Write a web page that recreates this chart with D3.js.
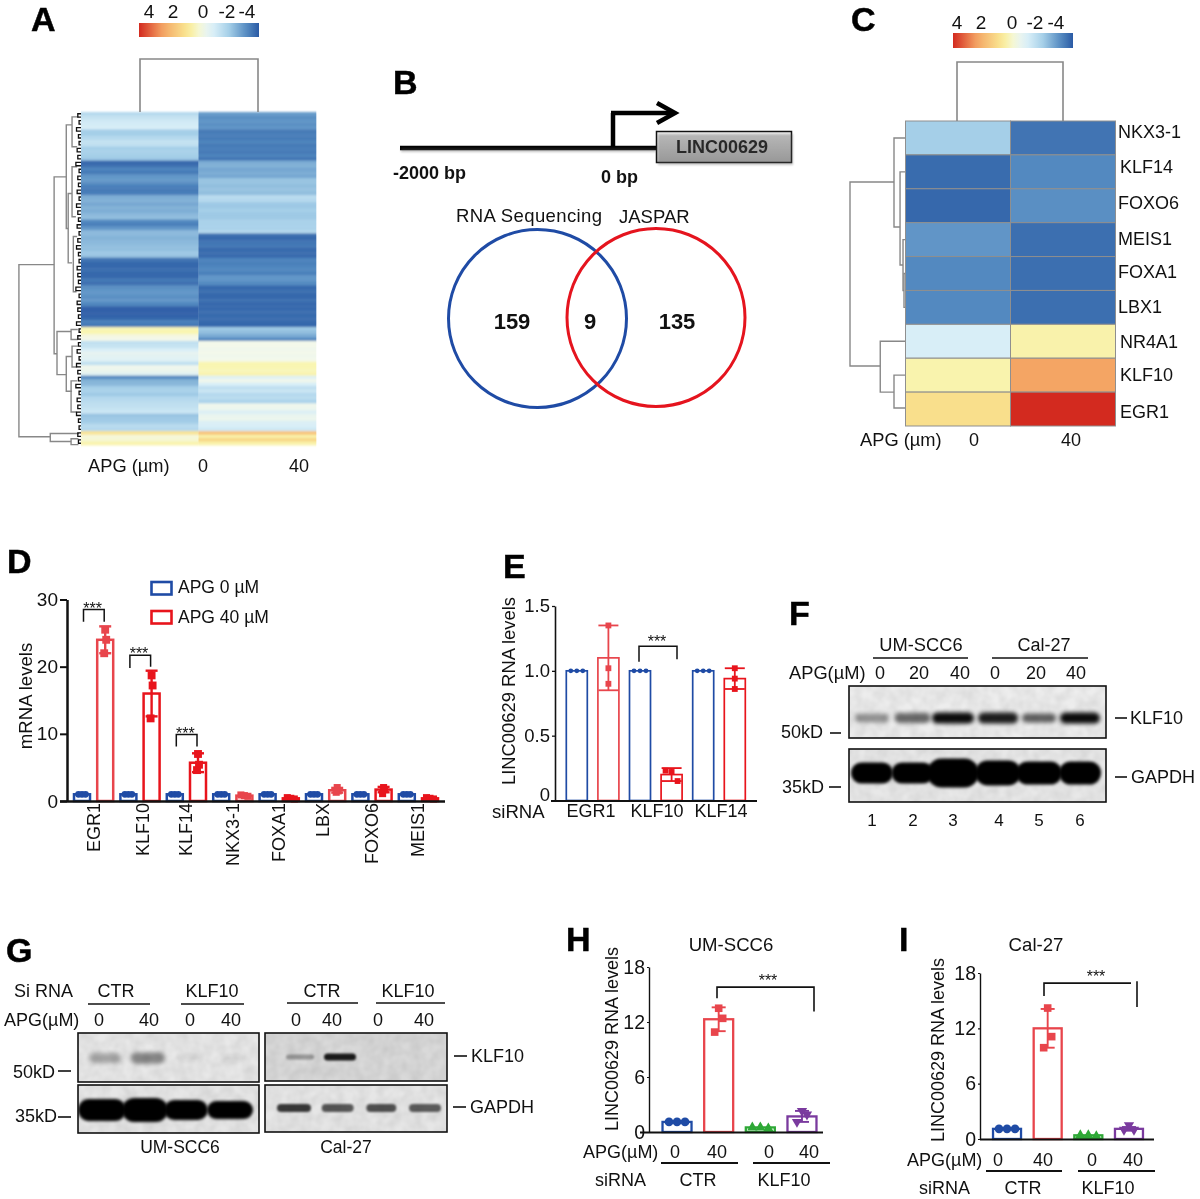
<!DOCTYPE html>
<html><head><meta charset="utf-8">
<style>html,body{margin:0;padding:0;background:#fff}svg{display:block;filter:blur(0.3px)}text{font-family:"Liberation Sans",Arial,sans-serif;fill:#111}</style>
<script src="https://cdnjs.cloudflare.com/ajax/libs/d3/7.8.5/d3.min.js"></script>
</head><body><svg id="c" width="1200" height="1199" viewBox="0 0 1200 1199"></svg>
<script>
// ---------- data ----------
const heatA_0 = [-1.7,-1.4,-1.2,-1.1,-1.0,-2.0,-2.0,-1.7,-1.4,-1.5,-2.0,-1.9,-2.0,-2.1,
 -3.8,-3.7,-3.3,-3.5,-3.0,-2.9,-3.1,-3.4,-3.5,-3.4,-2.6,-2.5,-2.7,-2.5,-2.6,-2.4,-2.3,
 -3.2,-3.4,-3.0,-2.4,-2.4,-2.5,-2.4,-2.3,-2.3,-2.1,-2.2,
 -3.6,-3.8,-3.8,-3.7,-3.8,-3.8,-3.5,-3.7,-3.1,-3.0,-3.0,-3.1,-3.0,-3.3,
 -3.9,-3.9,-3.9,-3.8,-3.4,-3.5,
 0.25,0.3,-0.1,-0.2,-1.5,-1.4,-1.0,-0.6,-0.7,-0.8,-1.5,-0.3,-0.4,-0.7,
 -3.2,-2.5,-2.4,-2.0,-1.9,-2.1,-1.7,-1.6,-1.5,-1.4,-1.3,-2.2,-2.1,-2.0,-1.6,-1.7,
 0.9,-0.05,0.0,0.35];
const heatA_40 = [-2.9,-3.1,-3.0,-3.1,-3.0,-3.5,-3.4,-3.5,-3.3,-3.5,-3.4,-3.5,-3.3,-3.6,
 -2.6,-2.5,-2.7,-2.6,-2.7,-2.2,-2.2,-2.3,-2.2,-2.3,-1.6,-1.7,-2.1,-2.1,-2.0,-2.1,-2.1,
 -1.9,-1.9,-1.9,-1.7,-3.7,-3.8,-3.6,-3.5,-3.8,-3.7,-3.8,
 -3.3,-3.4,-3.3,-3.2,-3.4,-3.0,-3.0,-3.2,-3.8,-3.7,-3.8,-3.8,-3.7,-3.8,
 -3.8,-3.7,-3.8,-3.7,-3.8,-3.8,
 -2.1,-2.3,-2.6,-3.2,-0.2,-0.2,-0.3,-0.2,-0.3,-0.2,0.3,0.3,0.2,0.35,
 -0.8,-0.3,-1.0,-1.5,-1.3,-1.7,-1.6,-1.9,-0.3,-0.4,-0.9,-0.5,-0.4,-0.9,-1.0,-1.2,
 1.7,0.45,1.2,0.4];
const dendroA = [[.97,43.5,93.1,.42,.48],[.42,18.2,69.2,.23,.375],[.23,3.2,33.1,.14,.2],[.14,.9,9.5,.04,.06],
 [.2,23,43,.14,.14],[.14,15.3,29.7,.06,.08],[.12,35.4,51.3,.06,.07],[.375,62.8,75.2,.155,.23],[.155,62.2,65.1,.05,.05],
 [.23,70,80,.14,.14],[.14,67,73,.05,.06],[.155,77,86,.06,.07],[.48,92.2,94.5,.03,.155],[.155,93.7,95.4,.04,.04]];
const leafRows = d3.range(0,96,2);
const leafHeights = [.05,.03,.07,.04,.03,.06,.05,.08,.03,.05,.04,.06,.03,.07,.05,.04,.06,.03,.05,.07,.04,.03,.06,.05,
 .04,.08,.03,.06,.05,.04,.07,.03,.05,.04,.06,.03,.07,.05,.04,.08,.03,.06,.05,.07,.04,.03,.05,.04];
const colTicks = [4,2,0,-2,-4];
const genesC = ['NKX3-1','KLF14','FOXO6','MEIS1','FOXA1','LBX1','NR4A1','KLF10','EGR1'];
const heatC_0  = [-2,-3.75,-3.8,-3,-3.2,-3.2,-1,0.35,1];
const heatC_40 = [-3.6,-3.2,-3.1,-3.7,-3.7,-3.7,0.4,2.4,4];
const dendroC = [[1,1.8,7.23,.2,.45],[.2,.5,3.13,0,.09],[.09,1.5,4.25,0,.036],[.036,3.5,5,0,.018],[.018,4.5,5.5,0,0],[.45,6.5,8,0,.2],[.2,7.5,8.47,0,0]];
const vennCounts = [159,9,135];
const vennNames = ['RNA Sequencing','JASPAR'];

const genesD = ['EGR1','KLF10','KLF14','NKX3-1','FOXA1','LBX','FOXO6','MEIS1'];
const ctrlD = [1,1,1,1,1,1,1,1];
const meansD = [24,16,5.7,0.8,0.4,1.6,1.7,0.4];
const sdD = [2,3.4,1.4,.1,.1,.35,.4,.1];
const ptsD = [[25.5,24,22],[18.7,17.2,12.3],[7,5.4,4.6],[.9,.8,.7],[.5,.4,.3],[2,1.5,1.3],[2,1.7,1.1],[.5,.4,.3]];
const sigD = [['EGR1',28.5,26.7,26.7],['KLF10',21.7,19.8,20],['KLF14',9.9,8.1,8.1]];
const legendD = ['APG 0 µM','APG 40 µM'];

const condE = ['EGR1 c','EGR1 t','KLF10 c','KLF10 t','KLF14 c','KLF14 t'];
const groupsE = ['EGR1','KLF10','KLF14'];
const meansE = [1,1.1,1,.2,1,.94];
const sdE = [0,.25,0,.05,0,.08];
const ptsE = [[1,1,1],[1.35,1.02,.9],[1,1,1],[.23,.22,.15],[1,1,1],[1.02,.94,.86]];

const condH = ['CTR 0','CTR 40','KLF10 0','KLF10 40'];
const meansH = [1.1,12.3,.5,1.7];
const sdH = [0,1.3,0,.6];
const ptsH = [[1.1,1.1,1.1],[13.5,12.4,10.9],[.5,.5,.4],[2.3,1.9,1.1]];
const meansI = [1.1,12,.4,1.1];
const sdI = [0,2.1,0,.2];
const ptsI = [[1.1,1.1,1.1],[14.2,11.1,9.9],[.4,.4,.3],[1.5,1,1]];
const ticksHI = [0,6,12,18];

const klf10F = [.38,.55,.95,.88,.6,.95];
const gapdhF = [1,1,1,1,1,1];
const klf10G1 = [.28,.42,.06,.06];
const gapdhG1 = [1,1,1,1];
const klf10G2 = [.3,.88,0,0];
const gapdhG2 = [.75,.62,.65,.6];
const laneNums = [1,2,3,4,5,6];

// ---------- helpers ----------
const svg = d3.select('#c');
const defs = svg.append('defs');
[['b2',2.1],['b1',1.3],['b15',1.7]].forEach(([id,s])=>{
  defs.append('filter').attr('id',id).attr('x','-30%').attr('y','-80%').attr('width','160%').attr('height','260%')
    .append('feGaussianBlur').attr('stdDeviation',s);
});
defs.append('filter').attr('id','sh').attr('x','-10%').attr('y','-50%').attr('width','120%').attr('height','200%')
    .append('feGaussianBlur').attr('stdDeviation',1.1);
defs.append('filter').attr('id','heatblur').attr('x','-2%').attr('y','-2%').attr('width','104%').attr('height','104%')
    .append('feGaussianBlur').attr('stdDeviation','0.2 0.9');
const grain=defs.append('filter').attr('id','grain').attr('x',0).attr('y',0).attr('width','100%').attr('height','100%');
grain.append('feTurbulence').attr('type','fractalNoise').attr('baseFrequency',.09).attr('numOctaves',2).attr('seed',4);
grain.append('feColorMatrix').attr('values','0 0 0 0 0  0 0 0 0 0  0 0 0 0 0  0.12 0 0 0 -0.03');
function T(g,x,y,s,o={}){
  const t=g.append('text').attr('x',x).attr('y',y).text(s)
   .attr('font-size',o.size||18).attr('font-weight',o.weight||null).attr('text-anchor',o.anchor||'start')
   .attr('transform',o.rot?`rotate(${o.rot} ${x} ${y})`:null);
  if(o.ls) t.attr('letter-spacing',o.ls);
  return t;
}
function L(g,x1,y1,x2,y2,w=1.5,c='#111'){return g.append('line').attr('x1',x1).attr('y1',y1).attr('x2',x2).attr('y2',y2).attr('stroke',c).attr('stroke-width',w);}
const zColor = d3.scaleLinear()
  .domain([-4,-3.7,-3.2,-2,-1,-0.2,.3,1,2.4,4])
  .range(['#2a5aa5','#3c6fb0','#5389c0','#a5cfe8','#d8eef7','#f3f8ea','#f9f5b0','#f9df8c','#f4a564','#d32a1f']);

// panel letters
[['A',31,31],['B',393,94],['C',851,31],['D',7,573],['E',503,578],['F',789,625],['G',6,962],['H',566,951],['I',899,951]]
 .forEach(([s,x,y])=>T(svg,x,y,s,{size:34,weight:'bold'}).style('fill','#000').attr('stroke','#000').attr('stroke-width',.5));

function colorbar(id,x0,x1,yTop,h,baseline,labelX){
  const scale = d3.scaleLinear().domain([4,-4]).range([0,100]);
  const g = defs.append('linearGradient').attr('id',id);
  d3.range(4,-4.01,-.5).forEach(v=>g.append('stop').attr('offset',scale(v)+'%').attr('stop-color',zColor(v)));
  svg.append('rect').attr('x',x0).attr('y',yTop).attr('width',x1-x0).attr('height',h).attr('fill',`url(#${id})`);
  colTicks.forEach((v,i)=>T(svg,labelX[i],baseline,String(v),{anchor:'middle',size:19}));
}
function dendro(g,br,hS,vS,c='#888',w=1.4){
  br.forEach(([h,a,b,ha,hb])=>{
    const p=d3.path();
    p.moveTo(hS(ha),vS(a));p.lineTo(hS(h),vS(a));p.lineTo(hS(h),vS(b));p.lineTo(hS(hb),vS(b));
    g.append('path').attr('d',p.toString()).attr('fill','none').attr('stroke',c).attr('stroke-width',w);
  });
}

// ---------- A ----------
{
  const rows=d3.range(heatA_0.length), cols=[heatA_0,heatA_40];
  const y=d3.scaleBand(rows,[112,445]), x=d3.scaleBand([0,1],[81,316]);
  const g=svg.append('g').attr('filter','url(#heatblur)');
  cols.forEach((arr,c)=>g.selectAll(null).data(arr).enter().append('rect')
    .attr('x',x(c)).attr('width',x.bandwidth()+.3).attr('y',(d,i)=>y(i)).attr('height',y.bandwidth()+.4).attr('fill',d=>zColor(d)));
  colorbar('cbA',139,259,23,14,18,[149,173,203,227,247]);
  const vS=d3.scaleLinear([0,95],[112+y.bandwidth()/2,445-y.bandwidth()/2]);
  const hS=d3.scaleLinear([0,1],[81,17]);
  dendro(svg,dendroA,hS,vS);
  leafRows.forEach((r,i)=>dendro(svg,[[leafHeights[i],r,Math.min(r+1,95),0,0]],hS,vS,'#111',1.3));
  const top=svg.append('path').attr('fill','none').attr('stroke','#888').attr('stroke-width',1.6);
  const p=d3.path();p.moveTo(140,112);p.lineTo(140,59);p.lineTo(258,59);p.lineTo(258,112);top.attr('d',p.toString());
  T(svg,88,472,'APG (µm)',{size:18.3});T(svg,203,472,'0',{anchor:'middle',size:18});T(svg,299,472,'40',{anchor:'middle',size:18});
}

// ---------- B ----------
{
  const g=svg.append('g');
  const sh=svg.append('g').attr('filter','url(#sh)').attr('opacity',.35).attr('transform','translate(1,2)');
  L(sh,400,148,655,148,4,'#555');
  const grad=defs.append('linearGradient').attr('id','boxg').attr('x1',0).attr('y1',0).attr('x2',0).attr('y2',1);
  grad.append('stop').attr('offset','0%').attr('stop-color','#f2f2f2');grad.append('stop').attr('offset','100%').attr('stop-color','#bdbdbd');
  L(g,400,148,656,148,4.5,'#000');L(g,613,148,613,113,4.5,'#000');L(g,611,113,672,113,4.5,'#000');
  g.append('path').attr('d','M657,103L675,113L657,123').attr('fill','none').attr('stroke','#000').attr('stroke-width',4.5);
  sh.append('rect').attr('x',657).attr('y',132).attr('width',135).attr('height',31).attr('fill','#555');
  g.append('rect').attr('x',656.5).attr('y',131.5).attr('width',135).attr('height',31).attr('fill','url(#boxg)').attr('stroke','#111').attr('stroke-width',1.5);
  T(g,722,153,'LINC00629',{anchor:'middle',size:18,weight:'bold'});
  T(g,393,179,'-2000 bp',{size:18,weight:'bold'});T(g,601,183,'0 bp',{size:18,weight:'bold'});
  T(g,456,222,vennNames[0],{size:18.5,ls:.4});T(g,619,223,vennNames[1],{size:18.5});
  g.append('circle').attr('cx',537.5).attr('cy',318.5).attr('r',89).attr('fill','none').attr('stroke','#1f4ba5').attr('stroke-width',3);
  g.append('circle').attr('cx',656).attr('cy',317.5).attr('r',89).attr('fill','none').attr('stroke','#e5141e').attr('stroke-width',3);
  vennCounts.forEach((v,i)=>T(g,[512,590,677][i],329,String(v),{anchor:'middle',size:22,weight:'bold'}));
}

// ---------- C ----------
{
  const y=d3.scaleBand(genesC,[121,426]), x=d3.scaleBand([0,1],[905.5,1115.5]);
  [heatC_0,heatC_40].forEach((arr,c)=>svg.selectAll(null).data(arr).enter().append('rect')
    .attr('x',x(c)).attr('width',x.bandwidth()).attr('y',(d,i)=>y(genesC[i])).attr('height',y.bandwidth())
    .attr('fill',d=>zColor(d)).attr('stroke','#8f8f8f').attr('stroke-width',1));
  const nudge=[0,1,3,5,4,6,7,6,9], lx=[1118,1120,1118,1118,1118,1118,1120,1120,1120];
  genesC.forEach((s,i)=>T(svg,lx[i],y(s)+y.bandwidth()/2+nudge[i],s,{size:18}));
  colorbar('cbC',953,1073,33,15,29,[957,981,1012,1035,1056]);
  dendro(svg,dendroC,d3.scaleLinear([0,1],[905,850]),d3.scaleLinear([0,9],[121,426]));
  const p=d3.path();p.moveTo(957,121);p.lineTo(957,62);p.lineTo(1063,62);p.lineTo(1063,121);
  svg.append('path').attr('d',p.toString()).attr('fill','none').attr('stroke','#888').attr('stroke-width',1.6);
  T(svg,860,446,'APG (µm)',{size:18.3});T(svg,974,446,'0',{anchor:'middle',size:18});T(svg,1071,446,'40',{anchor:'middle',size:18});
}

// ---------- bars ----------
const BLUE='#1f4ba5',RED='#e8141c',LRED='#e8454c',GREEN='#2ea836',PURP='#7a3a9e';
const sym={c:d3.symbolCircle,s:d3.symbolSquare,t:d3.symbolTriangle,v:d3.symbolTriangle};
function marker(g,px,py,kind,size,color){
  g.append('path').attr('d',d3.symbol().type(sym[kind]).size(size)())
   .attr('transform',`translate(${px},${py})`+(kind==='v'?' rotate(180)':'')).attr('fill',color);
}
function bar(g,cx,w,y,mean,sd,pts,color,kind,o){
  const b=y(0);
  g.append('rect').attr('x',cx-w/2).attr('y',y(mean)).attr('width',w).attr('height',b-y(mean))
   .attr('fill','none').attr('stroke',color).attr('stroke-width',o.sw);
  if(sd>0){
    L(g,cx,y(mean-sd),cx,y(mean+sd),o.ew,color);
    L(g,cx-o.cap,y(mean-sd),cx+o.cap,y(mean-sd),o.ew,color);
    L(g,cx-o.cap,y(mean+sd),cx+o.cap,y(mean+sd),o.ew,color);
  }
  const allSame=Math.max(...pts)-Math.min(...pts)<.15*(o.sameThresh||1);
  const jit=allSame?[-o.spread,0,o.spread]:[0,o.j,-o.j];
  pts.forEach((v,i)=>marker(g,cx+jit[i],y(v),kind,o.ms,color));
}
function yAxis(g,scale,x,values,fmt,w,tick,size=18){
  const a=d3.axisLeft(scale).tickValues(values).tickSize(tick).tickSizeOuter(0).tickPadding(2).tickFormat(fmt);
  const sel=g.append('g').attr('transform',`translate(${x},0)`).call(a);
  sel.selectAll('path').attr('stroke','#111').attr('stroke-width',w);
  sel.selectAll('line').attr('stroke','#111').attr('stroke-width',w*.8);
  sel.selectAll('text').attr('font-size',size).style('font-family','"Liberation Sans",Arial,sans-serif').style('fill','#111');
  return sel;
}
function sig(g,x1,x2,yTop,yL,yR,sx,sy,w=1.5){
  const p=d3.path();p.moveTo(x1,yL);p.lineTo(x1,yTop);p.lineTo(x2,yTop);p.lineTo(x2,yR);
  g.append('path').attr('d',p.toString()).attr('fill','none').attr('stroke','#111').attr('stroke-width',w);
  T(g,sx,sy,'***',{anchor:'middle',size:16});
}

// D
{
  const g=svg.append('g');
  const y=d3.scaleLinear([0,30],[801,599.5]);
  const x0=d3.scaleBand(genesD,[70.4,441.6]), x1=d3.scaleBand(['0','40'],[0,x0.bandwidth()]);
  const shade=[LRED,RED,RED,LRED,RED,LRED,RED,RED];
  const o={sw:2.5,ew:2.4,cap:6,ms:48,j:1,spread:3.5,sameThresh:4};
  genesD.forEach((n,i)=>{
    const bc=x0(n)+x1('0')+x1.bandwidth()/2, rc=x0(n)+x1('40')+x1.bandwidth()/2;
    bar(g,bc,16,y,ctrlD[i],0,[1,1,1],BLUE,'c',{...o,ms:36});
    bar(g,rc,16,y,meansD[i],sdD[i],ptsD[i],shade[i],'s',{...o,ms:i>2?50:62});
  });
  L(g,60,801.5,445,801.5,2.4);
  yAxis(g,y,67,[0,10,20,30],d3.format('d'),2.5,7,19);
  const nudge={KLF10:3,LBX:-3};
  const ax=g.append('g').attr('transform','translate(0,803)').call(d3.axisBottom(x0).tickSize(0).tickPadding(0));
  ax.select('.domain').remove();
  ax.selectAll('text').attr('font-size',18).attr('text-anchor','end').attr('dy',0).attr('y',0).attr('x',0)
    .style('font-family','"Liberation Sans",Arial,sans-serif').style('fill','#111')
    .attr('transform',d=>`translate(${6+(nudge[d]||0)},0) rotate(-90)`);
  T(g,32,696,'mRNA levels',{anchor:'middle',rot:-90,size:18.6});
  sigD.forEach(([n,t,l,r])=>{
    const x=x0(n);
    sig(g,x+x1.bandwidth()/2+1.5,x+x1('40')+x1.bandwidth()/2-1,y(t),y(l),y(r),x+x1.bandwidth()-1,y(t)+4,1.5);
  });
  [[BLUE,582,593],[RED,611,623]].forEach(([c,ry,ty],i)=>{
    g.append('rect').attr('x',151.5).attr('y',ry).attr('width',20).attr('height',12.5).attr('fill','none').attr('stroke',c).attr('stroke-width',2.6);
    T(g,178,ty,legendD[i],{size:17.5});
  });
}
// E
{
  const g=svg.append('g');
  const y=d3.scaleLinear([0,1.5],[800.5,606]);
  const x=d3.scaleBand(condE,[561,750.6]);
  const o={sw:1.7,ew:1.8,cap:10,ms:34,j:0,spread:6,sameThresh:1};
  condE.forEach((c,i)=>{
    const blue=i%2==0;
    bar(g,x(c)+x.bandwidth()/2,21,y,meansE[i],sdE[i],ptsE[i],blue?BLUE:(i==1?LRED:RED),blue?'c':'s',blue?{...o,ms:18}:{...o,j:0});
  });
  L(g,551,801,757,801,2);
  const ya=yAxis(g,y,555,[0,.5,1,1.5],d=>d===0?'0':d.toFixed(1),1.6,3,18.5);
  ya.selectAll('text').attr('dy',d=>d===0?'-0.02em':'0.32em');
  T(g,515,691,'LINC00629 RNA levels',{anchor:'middle',rot:-90,size:18.4});
  T(g,492,818,'siRNA',{size:18.6});
  groupsE.forEach((s,i)=>T(g,[591,657,721][i],817,s,{anchor:'middle',size:18}));
  sig(g,639,677,y(1.19),y(1.07),y(1.09),657,y(1.19)+1,1.5);
}
// H / I
function panelHI(o){
  const g=svg.append('g');
  const y=d3.scaleLinear([0,18],o.yr);
  const x=d3.scaleBand(condH,o.xr);
  const colors=[BLUE,LRED,GREEN,PURP],kinds=['c','s','t','v'],sp=[8,0,8,7],jj=[0,4,0,5],ms=[60,58,46,46];
  condH.forEach((c,i)=>{
    bar(g,x(c)+x.bandwidth()/2,o.bw,y,o.means[i],o.sd[i],o.pts[i],colors[i],kinds[i],{sw:2.3,ew:1.9,cap:7,ms:ms[i],j:jj[i],spread:sp[i],sameThresh:1});
  });
  L(g,o.axL,y(0)+.5,o.axR,y(0)+.5,2);
  yAxis(g,y,o.axX,ticksHI,d3.format('d'),1.4,2,19.5);
  T(g,o.ylabX,o.ylabY,'LINC00629 RNA levels',{anchor:'middle',rot:-90,size:18});
  T(g,o.titleX,951,o.title,{anchor:'middle',size:18.6});
  const p=o.under;
  T(g,p.apgX,p.apgY,'APG(µM)',{size:18});
  p.tx.forEach((v,i)=>T(g,v,p.apgY,['0','40','0','40'][i],{anchor:'middle',size:18}));
  L(g,p.l1[0],p.lineY,p.l1[1],p.lineY,1.8);L(g,p.l2[0],p.lineY,p.l2[1],p.lineY,1.8);
  T(g,p.siX,p.siY,'siRNA',{size:18});T(g,p.c1,p.siY,'CTR',{anchor:'middle',size:18});T(g,p.c2,p.siY,'KLF10',{anchor:'middle',size:18});
  if(o.gap){
    sig(g,o.s[0],o.s[1]-6,y(o.s[2]),y(o.s[3]),y(o.s[2]),o.s[5],o.s[6],1.6);
    L(g,o.s[1],y(o.s[2])-2,o.s[1],y(o.s[4]),1.6);
  } else sig(g,o.s[0],o.s[1],y(o.s[2]),y(o.s[3]),y(o.s[4]),o.s[5],o.s[6],1.6);
}
panelHI({yr:[1132,967],xr:[656.2,822.8],bw:29,means:meansH,sd:sdH,pts:ptsH,axL:640,axR:823,axX:649,ylabX:618,ylabY:1039,title:'UM-SCC6',titleX:731,
  s:[717,814,15.8,14.6,13.15,768,986],
  under:{apgX:583,apgY:1158,tx:[675,717,769,809],l1:[661,738],l2:[753,830],lineY:1163,siX:595,siY:1186,c1:698,c2:784}});
panelHI({yr:[1139,973],xr:[986.7,1149.3],bw:28,means:meansI,sd:sdI,pts:ptsI,axL:980,axR:1154,axX:980,ylabX:944,ylabY:1050,title:'Cal-27',titleX:1036,gap:true,
  s:[1044,1137,16.9,15.5,14.3,1096,982],
  under:{apgX:907,apgY:1166,tx:[998,1043,1092,1133],l1:[986,1062],l2:[1078,1155],lineY:1171,siX:919,siY:1194,c1:1023,c2:1108}});

// ---------- blots ----------
let clipN=0;
function blot(x,y,w,h,bg,vals,laneS,bandY,bw,bh,blur){
  const id='clip'+(clipN++);
  defs.append('clipPath').attr('id',id).append('rect').attr('x',x).attr('y',y).attr('width',w).attr('height',h);
  const g=svg.append('g').attr('clip-path',`url(#${id})`);
  g.append('rect').attr('x',x).attr('y',y).attr('width',w).attr('height',h).attr('fill',bg);
  g.append('rect').attr('x',x).attr('y',y).attr('width',w).attr('height',h).attr('filter','url(#grain)');
  g.selectAll(null).data(vals).enter().append('rect')
    .attr('x',(d,i)=>laneS(i+1)-bw[i]/2).attr('width',(d,i)=>bw[i])
    .attr('y',(d,i)=>bandY-bh[i]/2).attr('height',(d,i)=>bh[i])
    .attr('rx',(d,i)=>bh[i]/2).attr('fill','#000').attr('opacity',d=>d).attr('filter',`url(#${blur})`);
  svg.append('rect').attr('x',x).attr('y',y).attr('width',w).attr('height',h).attr('fill','none').attr('stroke','#111').attr('stroke-width',1.6);
}
// F
{
  const lane=d3.scaleLinear([1,3,4,6],[872,953,998,1080]);
  blot(849,686,257,52,'#ededed',klf10F,lane,718,[34,36,42,40,34,40],[9,10,11,11,9,11],'b2');
  blot(849,749,257,53,'#e8e8e8',gapdhF,lane,773,[42,42,52,46,46,42],[21,21,29,25,23,23],'b15');
  const g=svg.append('g');
  T(g,921,651,'UM-SCC6',{anchor:'middle',size:18.3});T(g,1044,651,'Cal-27',{anchor:'middle',size:18});
  L(g,873,658,968,658,1.6);L(g,992,658,1088,658,1.6);
  T(g,789,679,'APG(µM)',{size:18.3});
  [[880,'0'],[919,'20'],[960,'40'],[995,'0'],[1036,'20'],[1076,'40']].forEach(([x,s])=>T(g,x,679,s,{anchor:'middle',size:18}));
  T(g,781,738,'50kD',{size:18});L(g,830,733,841,733,1.6);
  T(g,782,793,'35kD',{size:18});L(g,829,787,841,787,1.6);
  L(g,1115,718,1127,718,1.6);T(g,1130,724,'KLF10',{size:18});
  L(g,1115,777,1127,777,1.6);T(g,1131,783,'GAPDH',{size:18});
  laneNums.forEach((n,i)=>T(g,[872,913,953,999,1039,1080][i],826,String(n),{anchor:'middle',size:17}));
}
// G
{
  const l1=d3.scaleLinear([1,4],[105,233]), l1g=d3.scaleLinear([1,2,3,4],[102,145,186,230]), l2=d3.scaleLinear([1,4],[294,425]);
  const lane2=d3.scaleLinear([1,2],[300,340]);
  blot(78,1033,181,49,'#e8e8e8',klf10G1,l1,1058,[32,34,24,24],[10,11,7,7],'b2');
  blot(78,1085,181,48,'#e6e6e6',gapdhG1,l1g,1110,[48,46,44,46],[22,24,20,18],'b15');
  blot(265,1033,182,48,'#d9d9d9',klf10G2,lane2,1057,[28,32,1,1],[5,7,1,1],'b1');
  blot(265,1085,182,47,'#e6e6e6',gapdhG2,l2,1108,[34,32,30,32],[8,8,8,8],'b1');
  const g=svg.append('g');
  T(g,14,997,'Si RNA',{size:18});
  T(g,116,997,'CTR',{anchor:'middle',size:18});T(g,212,997,'KLF10',{anchor:'middle',size:18});
  T(g,322,997,'CTR',{anchor:'middle',size:18});T(g,408,997,'KLF10',{anchor:'middle',size:18});
  L(g,88,1004,150,1004,1.6);L(g,181,1004,244,1004,1.6);L(g,287,1003,358,1003,1.6);L(g,376,1003,445,1003,1.6);
  T(g,4,1026,'APG(µM)',{size:18});
  [[99,'0'],[149,'40'],[190,'0'],[231,'40'],[296,'0'],[332,'40'],[378,'0'],[424,'40']].forEach(([x,s])=>T(g,x,1026,s,{anchor:'middle',size:18}));
  T(g,13,1078,'50kD',{size:18});L(g,58,1071,71,1071,1.6);
  T(g,15,1122,'35kD',{size:18});L(g,58,1117,71,1117,1.6);
  L(g,454,1056,467,1056,1.6);T(g,471,1062,'KLF10',{size:18});
  L(g,453,1107,466,1107,1.6);T(g,470,1113,'GAPDH',{size:18});
  T(g,180,1153,'UM-SCC6',{anchor:'middle',size:17.5});T(g,346,1153,'Cal-27',{anchor:'middle',size:17.5});
}
</script></body></html>
